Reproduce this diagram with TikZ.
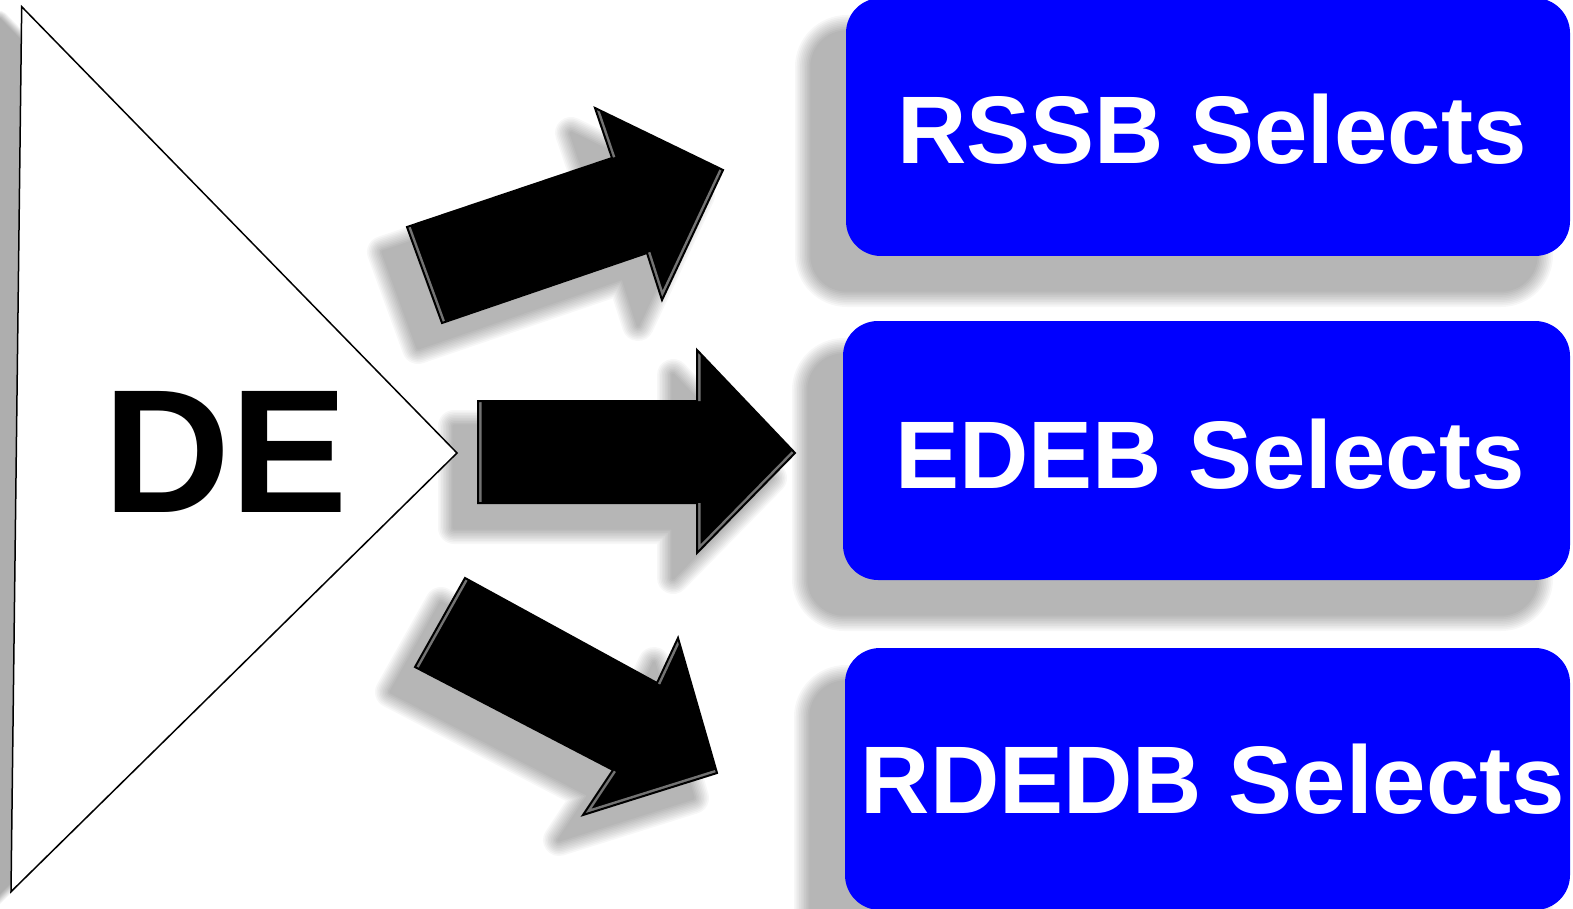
\documentclass[tikz,border=0pt]{standalone}
\usepackage{fontspec}
\setmainfont{Liberation Sans}
\definecolor{boxblue}{RGB}{0,0,255}
\definecolor{bevelgray}{RGB}{115,115,115}
\pgfdeclarelayer{bg}
\pgfdeclarelayer{shadow}
\pgfsetlayers{bg,shadow,main}
% soft shadow: #1 shift, #2 blur width, #3 layer opacity, #4 extra path options, #5 path
\newcommand\SoftShade[5]{%
  \begin{pgfonlayer}{shadow}
  \foreach \k in {1,...,10}{%
    \begin{scope}[shift={#1}, transparency group, opacity=#3]
      \filldraw[black, line width={#2*\k/5}, line join=round, #4] #5;
    \end{scope}}%
  \end{pgfonlayer}}
\newcommand\BlockArr[7]{%
  \SoftShade{(-24,25)}{8pt}{0.030}{}{#1 -- #2 -- #3 -- #4 -- #5 -- #6 -- #7 -- cycle}
  \fill[arrowbody] #1 -- #2 -- #3 -- #4 -- #5 -- #6 -- #7 -- cycle;
  \begin{scope}
    \clip #1 -- #2 -- #3 -- #4 -- #5 -- #6 -- #7 -- cycle;
    \draw[bevel] #7 -- #1 #2 -- #3 #4 -- #5 -- #6;
  \end{scope}
  \draw[arrowedge] #1 -- #2 -- #3 -- #4 -- #5 -- #6 -- #7 -- cycle;
}
\begin{document}
\begin{tikzpicture}[x=0.5pt,y=-0.5pt,
  selbox/.style={fill=boxblue, rounded corners=17.5pt, inner sep=0pt},
  seltext/.style={text=white, font=\bfseries\fontsize{48}{56}\selectfont, inner sep=0pt},
  tri/.style={fill=white, draw=black, line width=0.75pt},
  arrowbody/.style={fill=black},
  bevel/.style={draw=bevelgray, line width=3.5pt},
  arrowedge/.style={draw=black, line width=1pt, line join=miter},
  label/.style={font=\bfseries\fontsize{88}{100}\selectfont, inner sep=0pt}]
\begin{pgfonlayer}{bg}
\fill[white] (0,0) rectangle (1573,909);
\end{pgfonlayer}
\useasboundingbox (0,0) rectangle (1573,909);
% triangle
\SoftShade{(-22,12)}{4pt}{0.036}{}{(21.7,6.7) -- (457,453) -- (11,891.7) -- cycle}
\draw[tri] (21.7,6.7) coordinate (t1) -- (457,453) coordinate (ttip) -- (11,891.7) coordinate (t2) -- cycle;
\node[label] (de) at (226,452) {DE};
% boxes
\SoftShade{(-34,34)}{8.5pt}{0.032}{rounded corners=17.5pt}{(846,-2) rectangle (1570,256)}
\SoftShade{(-34,34)}{8.5pt}{0.032}{rounded corners=17.5pt}{(843,321) rectangle (1570,580)}
\SoftShade{(-34,34)}{8.5pt}{0.032}{rounded corners=17.5pt}{(845,648) rectangle (1570,910)}
\node[selbox, minimum width=362pt, minimum height=129pt] (b1) at (1208,127) {};
\node[selbox, minimum width=363.5pt, minimum height=129.5pt] (b2) at (1206.5,450.5) {};
\node[selbox, minimum width=362.5pt, minimum height=131pt] (b3) at (1207.5,779) {};
\node[seltext] (l1) at (1212,129) {RSSB Selects};
\node[seltext] (l2) at (1210,454) {EDEB Selects};
\node[seltext] (l3) at (1213,779) {RDEDB Selects};
% arrows
\BlockArr{(407,227)}{(612,158)}{(595,108)}{(723,170)}{(662,300)}{(647,253)}{(442,323)}
\BlockArr{(478,401)}{(697,401)}{(697,350)}{(795,453)}{(697,553)}{(697,503)}{(478,503)}
\BlockArr{(465,578)}{(657,683)}{(678,638)}{(717,773)}{(583,815)}{(613,770)}{(415,667)}
\end{tikzpicture}
\end{document}
